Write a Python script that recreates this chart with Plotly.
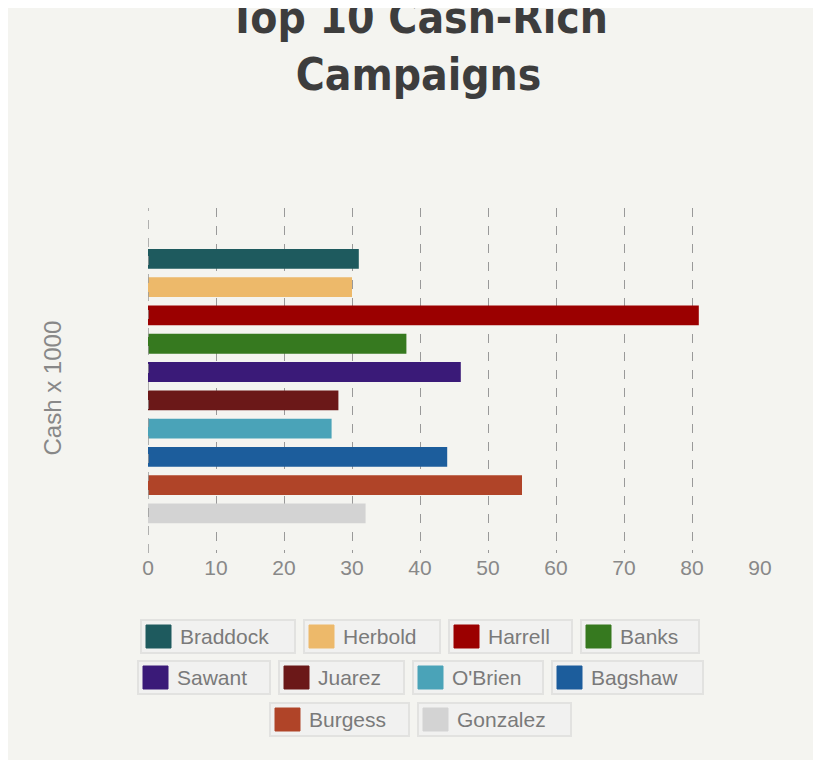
import plotly.graph_objects as go

names = ["Braddock","Herbold","Harrell","Banks","Sawant","Juarez","O'Brien","Bagshaw","Burgess","Gonzalez"]
values = [31,30,81,38,46,28,27,44,55,32]
colors = ["#1e5a5e","#edb96a","#9b0000","#36791f","#3a1a78","#6b1818","#4aa3b8","#1c5d9c","#b04428","#d3d3d3"]
ticks = [0,10,20,30,40,50,60,70,80,90]

W, H = 821, 760
L, R, T, B = 140, 69, 200, 215
PW, PH = W - L - R, H - T - B
def px(x): return (x - L) / PW
def py(y): return (H - B - y) / PH

fig = go.Figure()
for n, v, c in zip(names, values, colors):
    fig.add_trace(go.Bar(x=[v], y=[n], orientation="h", marker=dict(color=c, line_width=0),
                         width=0.7, showlegend=False))

rows = [[(133,154),(296,136),(441,123),(573,118)],
        [(130,132),(271,125),(405,130),(544,151)],
        [(262,139),(410,153)]]
row_y = [612,653,695]
shapes, annots = [], []
k = 0
for ri, row in enumerate(rows):
    y0 = row_y[ri]
    for (x0, w) in row:
        shapes.append(dict(type="rect", xref="paper", yref="paper",
                           x0=px(x0), x1=px(x0+w), y0=py(y0+33), y1=py(y0),
                           fillcolor="#f1f1f0", line=dict(color="#e2e2e0", width=2)))
        shapes.append(dict(type="rect", xref="paper", yref="paper",
                           x0=px(x0+5), x1=px(x0+30), y0=py(y0+28), y1=py(y0+5),
                           fillcolor=colors[k], line=dict(color=colors[k], width=1)))
        annots.append(dict(xref="paper", yref="paper", x=px(x0+37), y=py(y0+16.5),
                           text=names[k], showarrow=False, xanchor="left", yanchor="middle",
                           font=dict(size=21, color="#7a7a7a", family="Liberation Sans, Arial")))
        k += 1

annots.append(dict(xref="paper", yref="paper", x=px(28), y=py(380), text="Cash x 1000",
                   textangle=-90, showarrow=False, font=dict(size=24, color="#888",
                   family="Liberation Sans, Arial")))

fig.update_layout(
    width=W, height=H, paper_bgcolor="#f4f4f0", plot_bgcolor="#f4f4f0",
    margin=dict(l=L, r=R, t=T, b=B),
    title=dict(text="<b>Top 10 Cash-Rich<br>Campaigns</b>", x=0.5, xref="container",
               y=1-25/H, yref="container", yanchor="top",
               font=dict(size=44, color="#3d3d3d", family="DejaVu Sans Condensed, DejaVu Sans")),
    xaxis=dict(range=[0,90], tickvals=ticks, showgrid=True, gridcolor="#999", griddash="dash",
               zeroline=False, tickfont=dict(size=21, color="#888",
               family="Liberation Sans, Arial"), ticks="", showline=False, fixedrange=True),
    yaxis=dict(categoryorder="array", categoryarray=names[::-1], showticklabels=False,
               showgrid=False, range=[-1.4, 10.8]),
    shapes=shapes, annotations=annots,
)
fig.add_vline(x=0, line=dict(color="#999", dash="dash", width=1.5))
fig.write_html("out.html")
